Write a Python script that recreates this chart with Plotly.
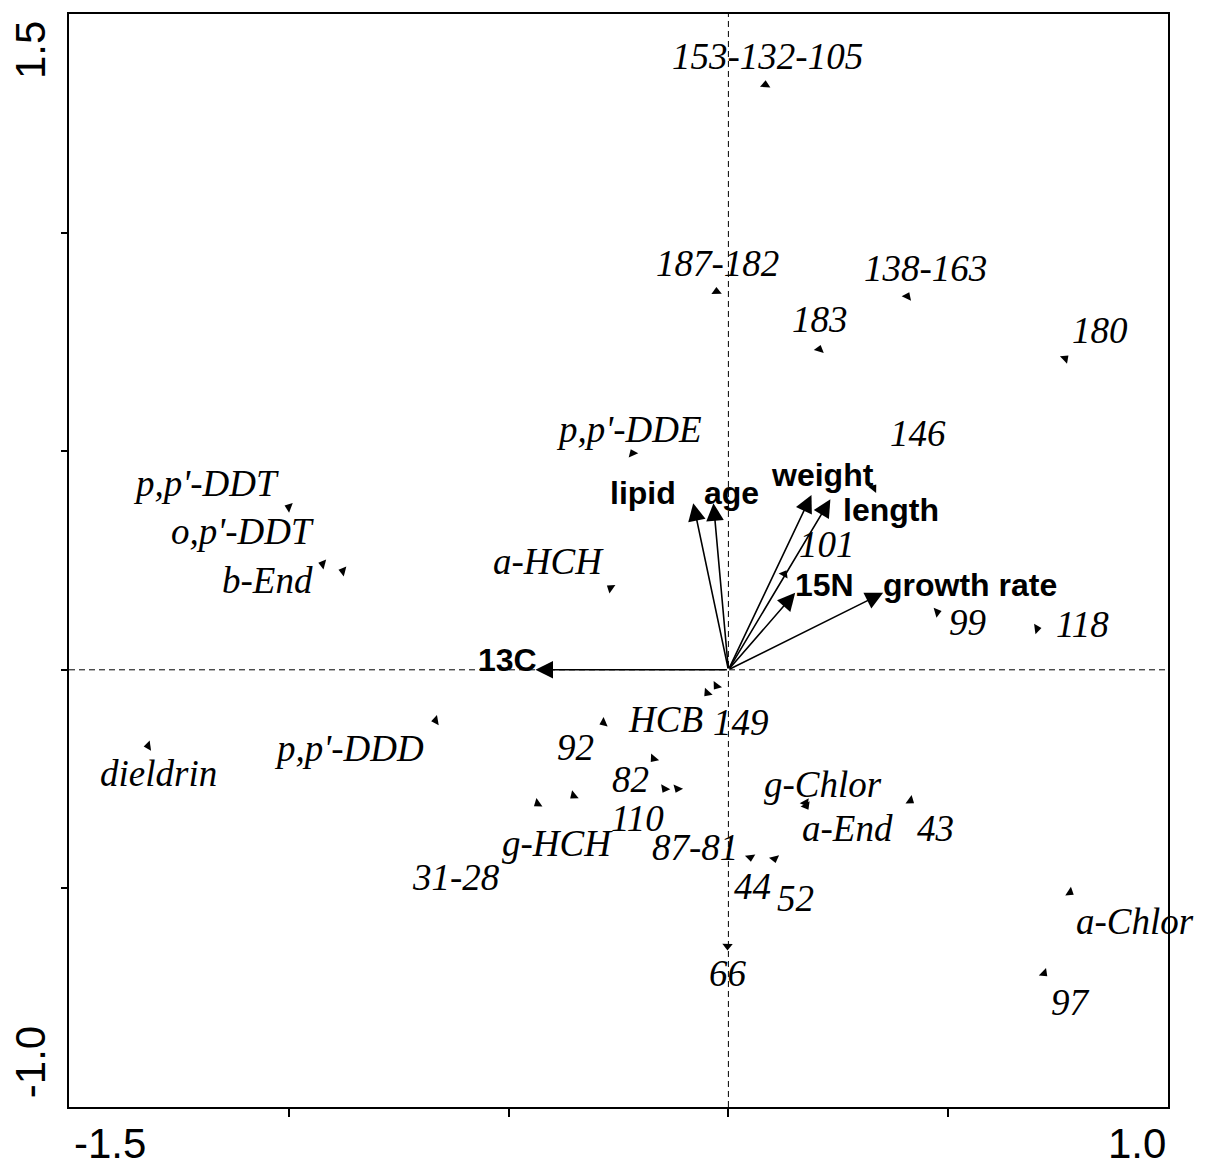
import math
import plotly.graph_objects as go

# ---------------- data ----------------
species = ["153-132-105", "187-182", "138-163", "183", "180", "146",
           "p,p'-DDE", "p,p'-DDT", "o,p'-DDT", "b-End", "a-HCH", "101",
           "99", "118", "HCB", "149", "92", "p,p'-DDD", "dieldrin", "82",
           "110", "87-81", "g-HCH", "31-28", "g-Chlor", "a-End", "43",
           "44", "52", "a-Chlor", "66", "97"]
species_x = [0.084, -0.027, 0.407, 0.207, 0.766, 0.330,
             -0.218, -1.000, -0.923, -0.877, -0.268, 0.127,
             0.475, 0.702, -0.048, -0.027, -0.284, -0.666, -1.320, -0.170,
             -0.145, -0.116, -0.352, -0.434, 0.175, 0.177, 0.414,
             0.050, 0.105, 0.777, -0.002, 0.718]
species_y = [1.338, 0.865, 0.854, 0.733, 0.712, 0.416,
             0.495, 0.372, 0.242, 0.226, 0.187, 0.219,
             0.132, 0.094, -0.053, -0.037, -0.121, -0.116, -0.174, -0.203,
             -0.272, -0.272, -0.288, -0.306, -0.304, -0.311, -0.299,
             -0.429, -0.432, -0.509, -0.632, -0.694]

env_vars = ["13C", "lipid", "age", "weight", "length", "15N", "growth rate"]
env_x = [-0.439, -0.080, -0.034, 0.189, 0.232, 0.152, 0.352]
env_y = [0.000, 0.381, 0.381, 0.400, 0.390, 0.176, 0.176]

x_range = [-1.5, 1.0]
y_range = [-1.0, 1.5]
x_ticks = [-1.5, -1.0, -0.5, 0.0, 0.5, 1.0]
y_ticks = [-1.0, -0.5, 0.0, 0.5, 1.0, 1.5]

# ---------------- layout helpers (pixel offsets of labels) ----------------
species_label_offset = {
    "153-132-105": (2, 28), "187-182": (1, 28), "138-163": (18, 28),
    "183": (1, 30), "180": (35, 28), "146": (45, 54),
    "p,p'-DDE": (-4, 24), "p,p'-DDT": (-83, 24), "o,p'-DDT": (-80, 33),
    "b-End": (-75, -10), "a-HCH": (-62, 27), "101": (43, 30),
    "99": (30, -10), "118": (45, 4), "HCB": (-42, -27), "149": (24, -37),
    "92": (-28, -25), "p,p'-DDD": (-87, -28), "dieldrin": (10, -28),
    "82": (-23, -21), "110": (-27, -30), "87-81": (18, -59),
    "g-HCH": (-16, -48), "31-28": (-82, -74), "g-Chlor": (18, 18),
    "a-End": (41, -23), "43": (25, -28), "44": (2, -29), "52": (21, -40),
    "a-Chlor": (65, -29), "66": (0, -27), "97": (26, -29),
}
env_label_offset = {
    "13C": (-28, 10), "lipid": (-50, 10), "age": (18, 10), "weight": (11, 20),
    "length": (61, -11), "15N": (29, 8), "growth rate": (87, 8),
}

serif_italic = dict(family="Liberation Serif, Times New Roman, serif", size=37, color="black")
sans_bold = dict(family="Liberation Sans, Arial, sans-serif", size=32, color="black")
tick_font = dict(family="Liberation Sans, Arial, sans-serif", size=42, color="black")

# ---------------- figure ----------------
fig = go.Figure()

angles = [math.degrees(math.atan2(x, y)) for x, y in zip(species_x, species_y)]
fig.add_trace(go.Scatter(
    x=species_x, y=species_y, mode="markers",
    marker=dict(symbol="triangle-up", size=9, color="black", angle=angles,
                line=dict(width=0)),
    hoverinfo="text", text=species, showlegend=False, cliponaxis=False,
))

annotations = []
for name, x, y in zip(species, species_x, species_y):
    dx, dy = species_label_offset[name]
    annotations.append(dict(x=x, y=y, xref="x", yref="y", text=f"<i>{name}</i>",
                            showarrow=False, xshift=dx, yshift=dy,
                            font=serif_italic, xanchor="center", yanchor="middle"))

for name, x, y in zip(env_vars, env_x, env_y):
    annotations.append(dict(x=x, y=y, ax=0, ay=0, xref="x", yref="y",
                            axref="x", ayref="y", text="", showarrow=True,
                            arrowhead=2, arrowsize=2.2, arrowwidth=1.6,
                            arrowcolor="black", standoff=0, startstandoff=0))
    dx, dy = env_label_offset[name]
    annotations.append(dict(x=x, y=y, xref="x", yref="y", text=f"<b>{name}</b>",
                            showarrow=False, xshift=dx, yshift=dy,
                            font=sans_bold, xanchor="center", yanchor="middle"))

# end tick labels placed inside the axis ends, as in the original
annotations += [
    dict(x=0.037, y=-0.033, xref="paper", yref="paper", text=f"{x_ticks[0]:.1f}",
         showarrow=False, font=tick_font, xanchor="center", yanchor="middle"),
    dict(x=0.972, y=-0.033, xref="paper", yref="paper", text=f"{x_ticks[-1]:.1f}",
         showarrow=False, font=tick_font, xanchor="center", yanchor="middle"),
    dict(x=-0.0355, y=0.967, xref="paper", yref="paper", text=f"{y_ticks[-1]:.1f}",
         showarrow=False, font=tick_font, xanchor="center", yanchor="middle",
         textangle=-90),
    dict(x=-0.0355, y=0.041, xref="paper", yref="paper", text=f"{y_ticks[0]:.1f}",
         showarrow=False, font=tick_font, xanchor="center", yanchor="middle",
         textangle=-90),
]

shapes = [
    dict(type="line", xref="x", yref="paper", x0=0, x1=0, y0=0, y1=1,
         line=dict(color="black", width=1, dash="6px,4px"), layer="below"),
    dict(type="line", xref="paper", yref="y", x0=0, x1=1, y0=0, y1=0,
         line=dict(color="black", width=1, dash="6px,4px"), layer="below"),
]

fig.update_layout(
    width=1205, height=1168,
    margin=dict(l=69, r=37, t=12, b=61),
    paper_bgcolor="white", plot_bgcolor="white",
    annotations=annotations, shapes=shapes,
    xaxis=dict(range=x_range, showgrid=False, zeroline=False,
               showline=True, linecolor="black", linewidth=2, mirror=True,
               ticks="outside", ticklen=8, tickwidth=1.5, tickcolor="black",
               tickvals=x_ticks[1:-1], showticklabels=False),
    yaxis=dict(range=y_range, showgrid=False, zeroline=False,
               showline=True, linecolor="black", linewidth=2, mirror=True,
               ticks="outside", ticklen=6, tickwidth=1.5, tickcolor="black",
               tickvals=y_ticks[1:-1], showticklabels=False),
)

fig.write_html("out.html")
